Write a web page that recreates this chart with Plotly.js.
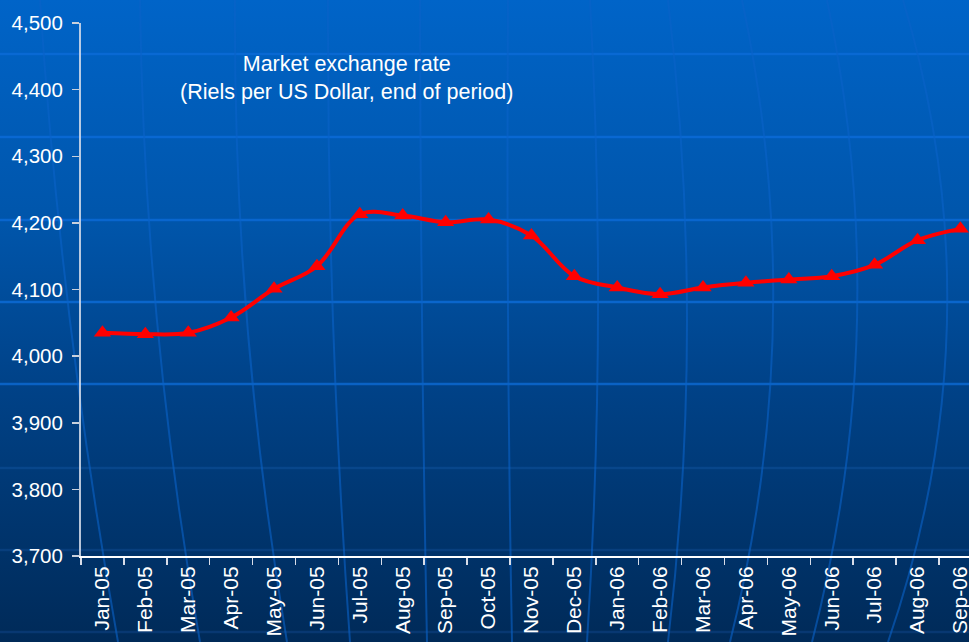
<!DOCTYPE html>
<html>
<head>
<meta charset="utf-8">
<script src="https://cdn.plot.ly/plotly-3.0.1.min.js"></script>
<style>
  html, body { margin: 0; padding: 0; background: #002a58; }
  #wrap { position: relative; width: 969px; height: 642px; overflow: hidden; }
  #bg { position: absolute; left: 0; top: 0; }
  #chart { position: absolute; left: 0; top: 0; width: 969px; height: 642px; }
</style>
</head>
<body>
<div id="wrap">
  <svg id="bg" width="969" height="642" xmlns="http://www.w3.org/2000/svg"></svg>
  <div id="chart"></div>
</div>
<script>
// ---- Data ----
const months = ["Jan-05","Feb-05","Mar-05","Apr-05","May-05","Jun-05","Jul-05","Aug-05","Sep-05","Oct-05","Nov-05","Dec-05",
                "Jan-06","Feb-06","Mar-06","Apr-06","May-06","Jun-06","Jul-06","Aug-06","Sep-06"];
const rielsPerUSD = [4035, 4033, 4035, 4058, 4101, 4135, 4213, 4211, 4201, 4205, 4181, 4120,
                     4103, 4093, 4103, 4110, 4115, 4120, 4137, 4174, 4191];
const yTicks = [3700, 3800, 3900, 4000, 4100, 4200, 4300, 4400, 4500];
const titleLines = ["Market exchange rate", "(Riels per US Dollar, end of period)"];

// ---- Decorative background (globe-like pattern) ----
(function drawBackground() {
  const svg = document.getElementById('bg');
  const NS = 'http://www.w3.org/2000/svg';
  const defs = document.createElementNS(NS, 'defs');
  defs.innerHTML = '<linearGradient id="g" x1="0" y1="0" x2="0" y2="1">' +
    '<stop offset="0" stop-color="#0064c8"/>' +
    '<stop offset="0.35" stop-color="#0055aa"/>' +
    '<stop offset="0.6" stop-color="#004288"/>' +
    '<stop offset="1" stop-color="#002a58"/></linearGradient>';
  svg.appendChild(defs);
  const rect = document.createElementNS(NS, 'rect');
  rect.setAttribute('width', 969); rect.setAttribute('height', 642);
  rect.setAttribute('fill', 'url(#g)');
  svg.appendChild(rect);
  const hLines = [[54,'#0a6ad6',0.9],[137,'#0a6ad6',0.9],[220,'#0a68d2',0.9],[302,'#0a66cc',1],[384,'#0a62c4',1],[468,'#0a4a90',0.8],[550,'#0a4282',0.8],[632,'#0a3c78',0.8]];
  hLines.forEach(([y,c,o]) => {
    const l = document.createElementNS(NS, 'line');
    l.setAttribute('x1', 0); l.setAttribute('x2', 969);
    l.setAttribute('y1', y); l.setAttribute('y2', y);
    l.setAttribute('stroke', c); l.setAttribute('stroke-width', 2.5);
    l.setAttribute('opacity', o);
    svg.appendChild(l);
  });
  // meridians: [x at middle, x at top, x at bottom]
  const mer = [[70,40,118],[157,140,200],[247,235,287],[333,328,350],[422,420,427],[508,508,512],
               [598,590,587],[687,668,668],[773,742,730],[857,827,812],[947,903,888]];
  mer.forEach(([xm,xt,xb]) => {
    const cx = 2*xm - (xt+xb)/2;
    const p = document.createElementNS(NS, 'path');
    p.setAttribute('d', `M${xt},0 Q${cx},321 ${xb},642`);
    p.setAttribute('fill', 'none');
    p.setAttribute('stroke', '#0a62c8');
    p.setAttribute('stroke-width', 2);
    p.setAttribute('opacity', 0.6);
    svg.appendChild(p);
  });
})();

// ---- Chart ----
const FONT = 'Liberation Sans, Arial, sans-serif';
const trace = {
  type: 'scatter',
  mode: 'lines+markers',
  x: months,
  y: rielsPerUSD,
  line: { color: '#ff0000', width: 4, shape: 'spline', smoothing: 1.0 },
  marker: { symbol: 'triangle-up', size: 15, color: '#ff0000' },
  hoverinfo: 'x+y'
};

const layout = {
  width: 969, height: 642,
  margin: { l: 81, r: 0, t: 23, b: 86 },
  paper_bgcolor: 'rgba(0,0,0,0)',
  plot_bgcolor: 'rgba(0,0,0,0)',
  showlegend: false,
  font: { family: FONT, color: '#ffffff', size: 20 },
  xaxis: {
    type: 'category',
    range: [-0.5, 20.2],
    tickangle: -90,
    tickson: 'boundaries',
    ticks: 'outside', ticklen: 7, tickwidth: 1.5, tickcolor: '#d8dde8',
    showline: true, linecolor: '#ffffff', linewidth: 2,
    showgrid: false, zeroline: false,
    tickfont: { family: FONT, size: 21, color: '#ffffff' },
    fixedrange: true
  },
  yaxis: {
    range: [3700, 4500],
    tickvals: yTicks,
    ticktext: yTicks.map(v => v.toLocaleString('en-US')),
    ticks: 'outside', ticklen: 7, tickwidth: 1.5, tickcolor: '#c8d0dc',
    ticklabelstandoff: 5,
    showline: true, linecolor: 'rgba(215,222,235,0.85)', linewidth: 2,
    showgrid: false, zeroline: false,
    tickfont: { family: FONT, size: 20.5, color: '#ffffff' },
    fixedrange: true
  },
  annotations: [{
    xref: 'paper', yref: 'paper',
    x: 0.2995, y: 0.897,
    xanchor: 'center', yanchor: 'middle',
    text: titleLines.join('<br>'),
    showarrow: false,
    align: 'center',
    font: { family: FONT, size: 21.5, color: '#ffffff' }
  }]
};

Plotly.newPlot('chart', [trace], layout, { displayModeBar: false, staticPlot: true });
</script>
</body>
</html>
